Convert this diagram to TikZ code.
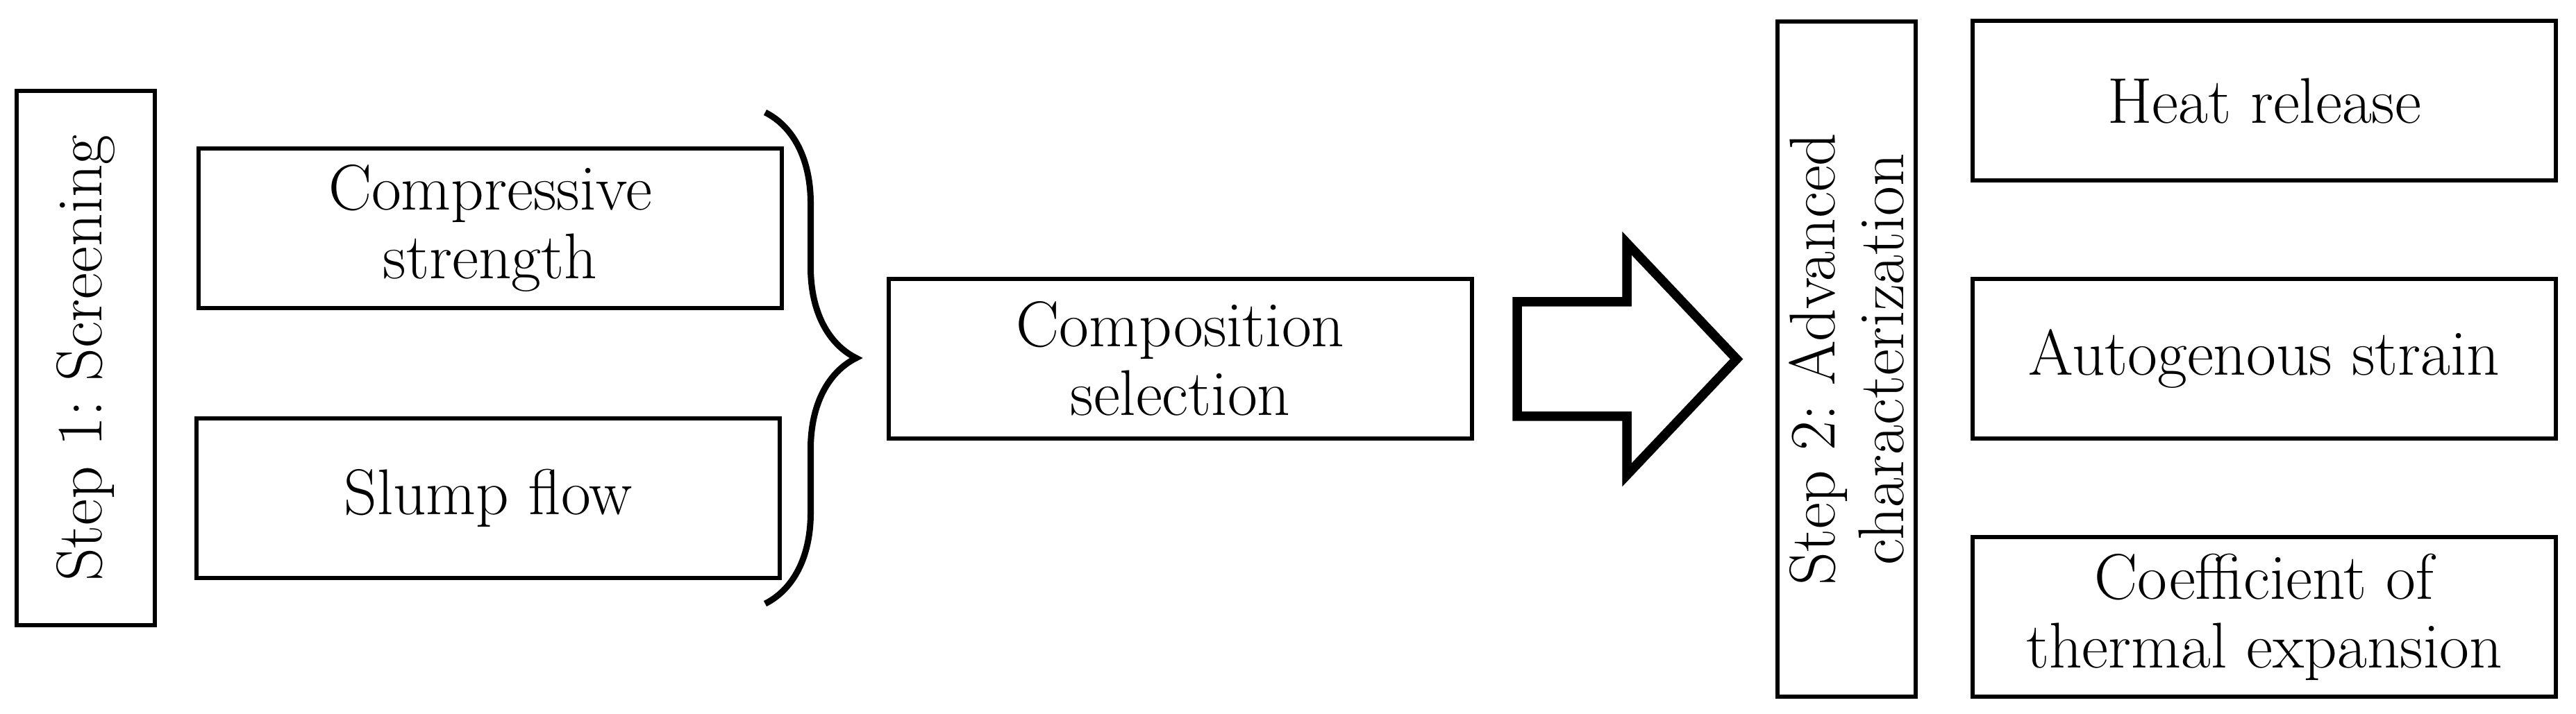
\documentclass[tikz,border=0pt]{standalone}
\usetikzlibrary{decorations.pathreplacing}
\begin{document}
\frenchspacing
\begin{tikzpicture}[
    box/.style = {draw, line width=0.06cm, minimum width=8.4cm, minimum height=2.3cm,
                  align=center, font=\fontsize{26.5}{28}\selectfont},
    stepbox/.style = {box, rotate=90, minimum height=1.99cm},
    curly/.style = {decorate, decoration={brace, amplitude=1.31cm}, line width=0.09cm},
    bigarrow/.style = {line width=0.135cm, line join=miter}
]
            \useasboundingbox (0,0) rectangle (37.10,-10.29);
            % step 1
            \node[stepbox, minimum width=7.70cm] (step1) at (1.235,-5.16) {Step 1: Screening};
            \node[box] (comp) at (7.06,-3.29) {Compressive\\strength};
            \node[box] (slump) at (7.03,-7.18) {Slump flow};
            \coordinate (btop) at (11.02,-1.62);
            \coordinate (bbot) at (11.02,-8.70);
            \draw[curly] (btop) -- (bbot);
            \node[box] (compsel) at (17.00,-5.17) {Composition\\selection};
            % big arrow
            \draw[bigarrow] (21.85,-4.35) -- (23.43,-4.35) -- (23.43,-3.505) -- (25.01,-5.175)
                -- (23.43,-6.845) -- (23.43,-6.00) -- (21.85,-6.00) -- cycle;
            % step 2
            \node[stepbox, minimum width=9.73cm] (step2) at (26.595,-5.175) {Step 2: Advanced\\characterization};
            \node[box] (heat) at (32.61,-1.455) {Heat release};
            \node[box] (auto) at (32.61,-5.175) {Autogenous strain};
            \node[box] (cte) at (32.61,-8.895) {Coefficient of\\thermal expansion};
\end{tikzpicture}
\end{document}
